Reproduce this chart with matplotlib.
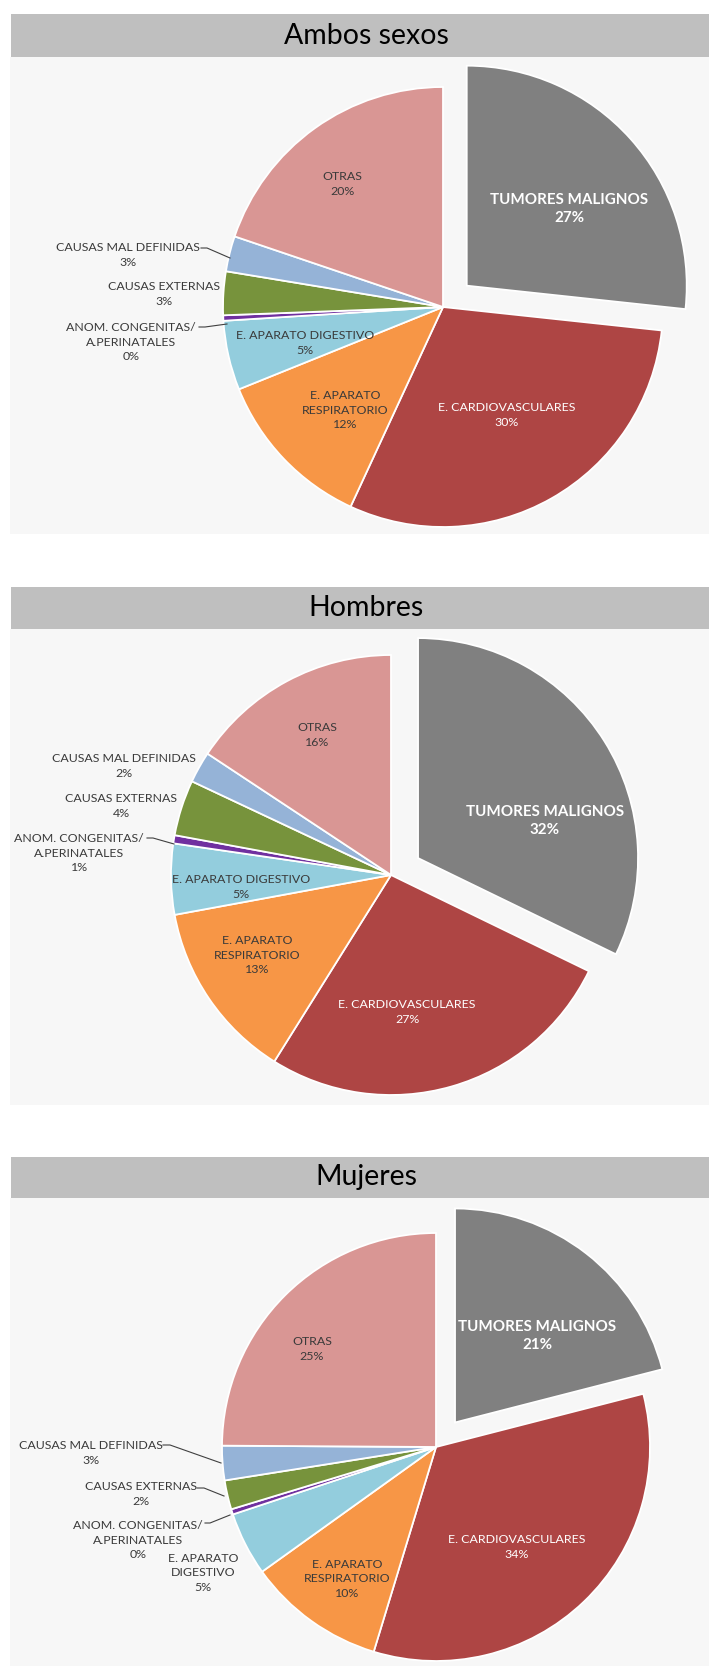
import matplotlib.pyplot as plt
from matplotlib.patches import Rectangle

# canvas size in pixels (figure drawn in pixel coordinates, y measured from top)
W, H = 709, 1666

# data: causes of death, share (%) for each group
causas = ['TUMORES MALIGNOS', 'E. CARDIOVASCULARES', 'E. APARATO\nRESPIRATORIO',
          'E. APARATO DIGESTIVO', 'ANOM. CONGENITAS/\nA.PERINATALES',
          'CAUSAS EXTERNAS', 'CAUSAS MAL DEFINIDAS', 'OTRAS']
colores = ['#808080', '#ae4544', '#f79646', '#93cddd', '#7030a0',
           '#77933c', '#95b3d7', '#d99694']
titulos = ['Ambos sexos', 'Hombres', 'Mujeres']
ambos = [26.7, 30.2, 12.0, 5.1, 0.4, 3.2, 2.6, 19.8]
hombres = [32.2, 26.7, 13.2, 5.2, 0.6, 4.1, 2.3, 15.7]
mujeres = [21.0, 33.7, 10.4, 4.8, 0.4, 2.2, 2.6, 24.9]
series = [ambos, hombres, mujeres]

# layout of each panel (pixels from top-left)
paneles = [
    dict(bar=(14, 57), bg=(57, 534), center=(443, 307), r=220,
         pos=[(569, 209), (507, 415), (345, 410), (305, 343),
              (131, 342), (164, 294), (128, 255), (342, 184)],
         leaders=[[(201, 248), (207, 248), (230, 258)],
                  [(199, 327), (205, 327), (227, 324)]],
         wrap_dig=False),
    dict(bar=(587, 629), bg=(629, 1105), center=(391, 875), r=220,
         pos=[(545, 821), (407, 1012), (257, 955), (241, 887),
              (79, 853), (121, 806), (124, 766), (317, 735)],
         leaders=[[(147, 838), (153, 838), (174, 844)]],
         wrap_dig=False),
    dict(bar=(1157, 1198), bg=(1198, 1666), center=(436, 1447), r=214,
         pos=[(537, 1336), (517, 1547), (347, 1579), (203, 1573),
              (138, 1540), (141, 1494), (91, 1453), (312, 1349)],
         leaders=[[(163, 1445), (170, 1445), (221, 1463)],
                  [(197, 1488), (204, 1488), (224, 1496)],
                  [(205, 1523), (210, 1523), (230, 1515)]],
         wrap_dig=True),
]

FONT = 'Lato'
TXT = '#3a3a3a'

fig = plt.figure(figsize=(W / 100, H / 100), dpi=100)
ax = fig.add_axes([0, 0, 1, 1])


def Y(y):
    return H - y


for titulo, valores, p in zip(titulos, series, paneles):
    # title bar and plot background
    b0, b1 = p['bar']
    ax.add_patch(Rectangle((11, Y(b1)), W - 11, b1 - b0, facecolor='#bfbfbf',
                           edgecolor='none', zorder=0))
    g0, g1 = p['bg']
    ax.add_patch(Rectangle((10, Y(g1)), W - 10, g1 - g0, facecolor='#f7f7f7',
                           edgecolor='none', zorder=0))
    ax.text(366, Y((b0 + b1) / 2), titulo, ha='center', va='center',
            fontsize=20.5, family=FONT, color='black')

    cx, cy = p['center']
    r = p['r']
    explode = [0.145 * r] + [0] * (len(valores) - 1)
    ax.pie(valores, colors=colores, startangle=90, counterclock=False,
           center=(cx, Y(cy)), radius=r, explode=explode, frame=True,
           wedgeprops=dict(edgecolor='white', linewidth=1.3))

    for i, (nombre, v, (tx, ty)) in enumerate(zip(causas, valores, p['pos'])):
        if i == 3 and p['wrap_dig']:
            nombre = nombre.replace(' DIGESTIVO', '\nDIGESTIVO')
        s = f'{nombre}\n{v:.0f}%'
        if i == 0:
            ax.text(tx, Y(ty), s, ha='center', va='center', fontsize=10.9,
                    fontweight='bold', color='white', family=FONT,
                    linespacing=1.3, zorder=5)
        else:
            ax.text(tx, Y(ty), s, ha='center', va='center', fontsize=8.9,
                    color='white' if i == 1 else TXT, family=FONT,
                    linespacing=1.35, zorder=5)

    for pts in p['leaders']:
        ax.plot([q[0] for q in pts], [Y(q[1]) for q in pts], color='#404040',
                lw=0.8, zorder=4)

ax.set_xlim(0, W)
ax.set_ylim(0, H)
ax.set_aspect('auto')
ax.set_axis_off()

fig.savefig('out.png', dpi=100)
